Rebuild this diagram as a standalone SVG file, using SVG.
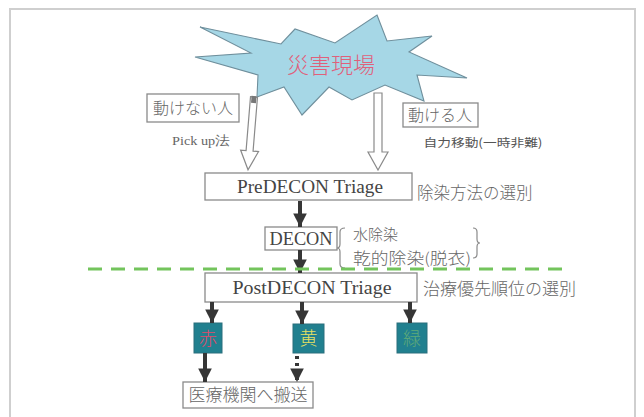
<svg xmlns="http://www.w3.org/2000/svg" width="644" height="417" viewBox="0 0 644 417">
<defs>
<style>
.frame{fill:none;stroke:#cfcfcf;stroke-width:2}
.box{fill:#fff;stroke:#8a8a8a;stroke-width:1.3}
.jp{font-family:"Noto Sans CJK JP","Noto Sans",sans-serif;fill:#666;font-weight:300}
.en{font-family:"Liberation Serif","DejaVu Serif",serif;fill:#444}
.hollow{fill:#fff;stroke:#8a8a8a;stroke-width:1.2}
.dark{stroke:#363636;stroke-width:4;fill:none}
.tbox{fill:#21808f;stroke:#2a6f7c;stroke-width:1}
</style>
<marker id="ah" viewBox="0 0 10 10" refX="10" refY="5" markerWidth="3.4" markerHeight="3.4" markerUnits="strokeWidth" orient="auto">
<path d="M0,0 L10,5 L0,10 Z" fill="#363636"/>
</marker>
</defs>
<rect width="644" height="417" fill="#fff"/>
<rect class="frame" x="10" y="9" width="625" height="420"/>

<g id="disaster-site">
<polygon points="377,15 387,41 432,36 409,52 467,78 417,75 424,101 385,85 352,100 329,87 302,115 284,87 257,97 258,75 195,57 251,53 200,27 281,44 295,29 335,43" fill="#a6d7e6" stroke="#6f8f9c" stroke-width="1.1" stroke-linejoin="miter"/>
<text x="331" y="73" text-anchor="middle" class="jp" style="font-size:22px;fill:#e0607a">災害現場</text>
</g>

<g id="immobile">
<rect class="box" x="147" y="94" width="92" height="28"/>
<text x="193" y="114" text-anchor="middle" class="jp" style="font-size:16px">動けない人</text>
<text x="201" y="145" text-anchor="middle" class="en" style="font-size:12.5px;fill:#666" textLength="58" lengthAdjust="spacingAndGlyphs">Pick up法</text>
</g>

<g id="mobile">
<rect class="box" x="403" y="103" width="75" height="24"/>
<text x="440" y="121" text-anchor="middle" class="jp" style="font-size:16px">動ける人</text>
<text x="483" y="147" text-anchor="middle" class="jp" style="font-size:11.5px;fill:#555;font-weight:400" textLength="119" lengthAdjust="spacingAndGlyphs">自力移動(一時非難)</text>
</g>

<g id="predecon">
<rect class="box" x="205" y="173" width="207" height="27"/>
<text x="310" y="193" text-anchor="middle" class="en" style="font-size:18px" textLength="146" lengthAdjust="spacingAndGlyphs">PreDECON Triage</text>
<text x="417" y="199" class="jp" style="font-size:16.5px">除染方法の選別</text>
</g>

<g id="decon">
<rect class="box" x="265" y="227" width="72" height="23"/>
<text x="301" y="245" text-anchor="middle" class="en" style="font-size:18px" textLength="63" lengthAdjust="spacingAndGlyphs">DECON</text>
<path d="M345,228 Q340,228 340,232 L340,244 Q340,248 337,248 Q340,248 340,252 L340,264 Q340,268 345,268" fill="none" stroke="#8a8a8a" stroke-width="1.2"/>
<text x="353" y="240" class="jp" style="font-size:15px">水除染</text>
<text x="353" y="264" class="jp" style="font-size:15.5px" textLength="118" lengthAdjust="spacingAndGlyphs">乾的除染(脱衣)</text>
<path d="M473,228 Q477,228 477,232 L477,239 Q477,243 480,243 Q477,243 477,247 L477,254 Q477,258 473,258" fill="none" stroke="#8a8a8a" stroke-width="1.2"/>
</g>

<g id="postdecon">
<rect class="box" x="205" y="273" width="212" height="29"/>
<text x="312" y="294" text-anchor="middle" class="en" style="font-size:18px" textLength="159" lengthAdjust="spacingAndGlyphs">PostDECON Triage</text>
<text x="423" y="295" class="jp" style="font-size:17px">治療優先順位の選別</text>
</g>

<g id="red">
<rect class="tbox" x="194" y="323" width="28" height="30"/>
<text x="208" y="345" text-anchor="middle" class="jp" style="font-size:18px;fill:#e04a6a">赤</text>
</g>
<g id="yellow">
<rect class="tbox" x="293" y="324" width="31" height="29"/>
<text x="308.5" y="345" text-anchor="middle" class="jp" style="font-size:18px;fill:#e8e060">黄</text>
</g>
<g id="green">
<rect class="tbox" x="397" y="323" width="30" height="30"/>
<text x="412" y="345" text-anchor="middle" class="jp" style="font-size:18px;fill:#5faa78">緑</text>
</g>

<g id="hospital">
<rect class="box" x="183" y="382" width="130" height="26"/>
<text x="248" y="401" text-anchor="middle" class="jp" style="font-size:17px">医療機関へ搬送</text>
</g>

<g id="connectors">
<g transform="rotate(4.7 254 97)">
<polygon class="hollow" points="250.5,97 257.5,97 257.5,151 263,151 254,170 245,151 250.5,151"/>
<rect x="251.5" y="96" width="5" height="7" fill="#777"/>
</g>
<polygon class="hollow" points="374,93 382,93 382,152 388,152 378,170 368,152 374,152"/>
<line class="dark" x1="300" y1="201" x2="300" y2="227" marker-end="url(#ah)"/>
<line class="dark" x1="300" y1="250" x2="300" y2="273" marker-end="url(#ah)"/>
<line x1="88" y1="269" x2="566" y2="269" stroke="#73c45c" stroke-width="3" stroke-dasharray="14,9"/>
<line class="dark" x1="212" y1="302" x2="212" y2="323" marker-end="url(#ah)"/>
<line class="dark" x1="302" y1="302" x2="302" y2="324" marker-end="url(#ah)"/>
<line class="dark" x1="410" y1="302" x2="410" y2="323" marker-end="url(#ah)"/>
<line class="dark" x1="205" y1="353" x2="205" y2="382" marker-end="url(#ah)"/>
<line class="dark" x1="297" y1="356" x2="297" y2="382" stroke-dasharray="3,4" marker-end="url(#ah)"/>
</g>
</svg>
